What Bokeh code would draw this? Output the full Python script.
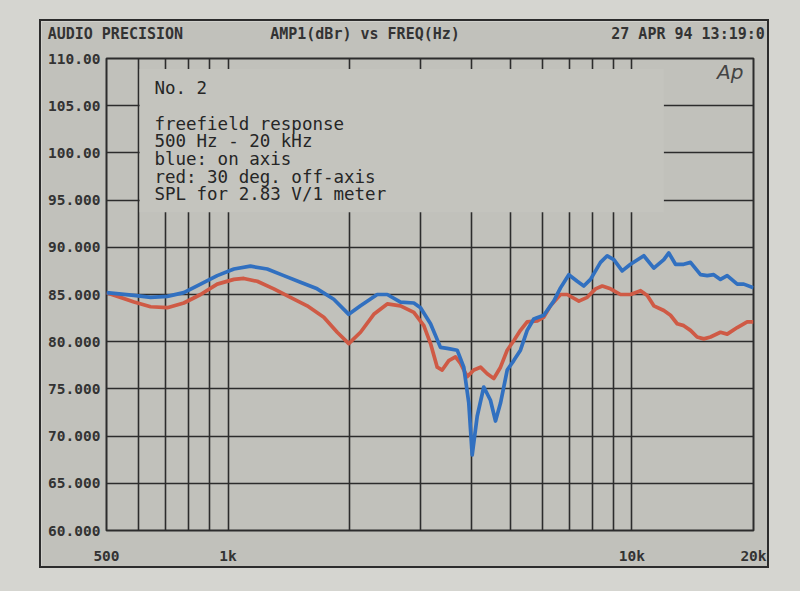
from bokeh.plotting import figure
from bokeh.layouts import column, row
from bokeh.models import FixedTicker, Label, BoxAnnotation, Spacer, LogAxis
from bokeh.embed import file_html
from bokeh.resources import INLINE

# ---- data ----
blue_freq = [500, 585, 643, 707, 777, 855, 940, 1034, 1136, 1250, 1374, 1511, 1662, 1827, 1990,
             2128, 2340, 2478, 2673, 2884, 2996, 3172, 3357, 3488, 3693, 3834, 3945, 4022, 4139,
             4297, 4464, 4594, 4727, 4911, 5098, 5296, 5503, 5714, 6050, 6404, 6655, 6977, 7320,
             7600, 7897, 8360, 8685, 9020, 9460, 9920, 10700, 11330, 11995, 12340, 12820, 13440,
             13965, 14785, 15360, 15945, 16565, 17215, 18230, 18920, 20000]
blue_db = [85.2, 84.9, 84.7, 84.8, 85.2, 86.1, 87.0, 87.7, 88.0, 87.7, 87.0, 86.3, 85.6, 84.5, 82.9,
           83.8, 85.0, 85.0, 84.2, 84.1, 83.6, 81.9, 79.4, 79.3, 79.1, 77.3, 73.5, 68.0, 72.1,
           75.2, 73.8, 71.6, 73.5, 77.0, 78.0, 79.1, 81.2, 82.4, 82.8, 84.3, 85.7, 87.1, 86.4,
           85.9, 86.6, 88.4, 89.1, 88.7, 87.5, 88.2, 89.1, 87.8, 88.7, 89.4, 88.2, 88.2,
           88.4, 87.1, 87.0, 87.1, 86.6, 87.0, 86.1, 86.1, 85.7]

red_freq = [500, 585, 643, 707, 777, 855, 940, 1034, 1094, 1181, 1298, 1427, 1570, 1726, 1863,
            1990, 2128, 2295, 2478, 2673, 2884, 3053, 3172, 3295, 3390, 3520, 3657, 3763, 3909,
            4060, 4218, 4382, 4550, 4727, 4911, 5098, 5296, 5503, 5830, 6050, 6284, 6655, 6915,
            7390, 7750, 8125, 8444, 8850, 9370, 9920, 10505, 10915, 11330, 11995, 12460, 12945,
            13440, 13965, 14505, 15065, 15650, 16565, 17215, 18230, 19290, 20000]
red_db = [85.2, 84.2, 83.7, 83.6, 84.1, 85.0, 86.1, 86.6, 86.7, 86.4, 85.6, 84.7, 83.8, 82.6, 81.0,
          79.8, 81.0, 82.9, 84.0, 83.8, 83.1, 81.7, 79.8, 77.3, 77.0, 78.0, 78.4, 77.7, 76.3,
          77.0, 77.3, 76.6, 76.1, 77.3, 79.1, 80.1, 81.2, 82.1, 82.2, 82.6, 83.8, 85.0, 85.0,
          84.3, 84.7, 85.6, 85.9, 85.6, 85.0, 85.0, 85.4, 84.9, 83.8, 83.3, 82.8, 81.9,
          81.7, 81.2, 80.5, 80.3, 80.5, 81.0, 80.8, 81.5, 82.1, 82.1]

x_ticks = [500, 1000, 10000, 20000]
x_tick_labels = ["500", "1k", "10k", "20k"]
x_grid = [600, 700, 800, 900, 1000, 2000, 3000, 4000, 5000, 6000, 7000, 8000, 9000, 10000]
y_ticks = [60, 65, 70, 75, 80, 85, 90, 95, 100, 105, 110]
y_tick_labels = ["60.000", "65.000", "70.000", "75.000", "80.000", "85.000", "90.000",
                 "95.000", "100.00", "105.00", "110.00"]

header_texts = ["AUDIO PRECISION", "AMP1(dBr) vs FREQ(Hz)", "27 APR 94 13:19:0"]
note_lines = ["No. 2", "freefield response", "500 Hz - 20 kHz", "blue: on axis",
              "red: 30 deg. off-axis", "SPL for 2.83 V/1 meter"]

# ---- styling ----
PAPER = "#d5d5d0"
INNER = "#c1c1bb"
INK = "#2c2c2c"
BLUE = "#3170c0"
RED = "#cf5a45"
MONO = "DejaVu Sans Mono"

p = figure(width=726, height=545, x_axis_type="log", x_range=(500, 20000), y_range=(60, 110),
           output_backend="svg", toolbar_location=None, title=None,
           min_border_left=65, min_border_right=14, min_border_top=35, min_border_bottom=35)

p.border_fill_color = INNER
p.background_fill_color = INNER
p.outline_line_color = INK
p.outline_line_width = 2
p.styles = {"outline": "2px solid #2c2c2c"}

bottom_axis = p.below[0]
left_axis = p.left[0]

# header line of the instrument printout, carried by an axis above the frame
header_at = [526, 2183, 13770]   # horizontal anchor of each header text (Hz)
top_axis = LogAxis(ticker=FixedTicker(ticks=header_at),
                   major_label_overrides={t: s for t, s in zip(header_at, header_texts)})
p.add_layout(top_axis, "above")

# axes
bottom_axis.ticker = FixedTicker(ticks=x_ticks)
bottom_axis.major_label_overrides = {t: s for t, s in zip(x_ticks, x_tick_labels)}
left_axis.ticker = FixedTicker(ticks=y_ticks)
left_axis.major_label_overrides = {t: s for t, s in zip(y_ticks, y_tick_labels)}
for ax in (bottom_axis, top_axis, left_axis):
    ax.axis_line_color = None
    ax.major_tick_line_color = None
    ax.minor_tick_line_color = None
    ax.major_tick_in = 0
    ax.major_tick_out = 0
    ax.major_label_text_font = MONO
    ax.major_label_text_font_style = "bold"
    ax.major_label_text_font_size = "14.5px"
    ax.major_label_text_color = "#333333"
top_axis.major_label_text_font_size = "15px"
top_axis.major_label_text_line_height = 0.8
top_axis.major_label_standoff = 16
left_axis.major_label_standoff = 6
bottom_axis.major_label_standoff = 17

# grids
p.xgrid.ticker = FixedTicker(ticks=x_grid)
p.ygrid.ticker = FixedTicker(ticks=y_ticks[1:-1])
for g in (p.xgrid, p.ygrid):
    g.grid_line_color = INK
    g.grid_line_width = 1.6
    g.grid_line_alpha = 1

# text box covering the grid
note_box = BoxAnnotation(left=604, right=12000, bottom=93.7, top=108.9,
                         fill_color="#c4c4be", fill_alpha=1, line_color=None)
p.add_layout(note_box)

# curves
p.line(red_freq, red_db, line_color=RED, line_width=3.7, line_join="round")
p.line(blue_freq, blue_db, line_color=BLUE, line_width=3.7, line_join="round")

# note text
note_y = [106.92, 103.07, 101.22, 99.33, 97.47, 95.61]
for txt, y in zip(note_lines, note_y):
    p.add_layout(Label(x=657, y=y, text=txt, text_font=MONO, text_font_size="17.5px",
                       text_color="#262626", text_baseline="middle", text_align="left"))

p.add_layout(Label(x=18890, y=108.6, text="Ap", text_font="DejaVu Sans", text_font_style="italic",
                   text_font_size="20px", text_color="#444444", text_baseline="middle",
                   text_align="right"))

page = column(Spacer(width=800, height=21),
              row(Spacer(width=41, height=545), p),
              width=800, height=591, styles={"background-color": PAPER})

open("out.html", "w").write(file_html(page, INLINE))
